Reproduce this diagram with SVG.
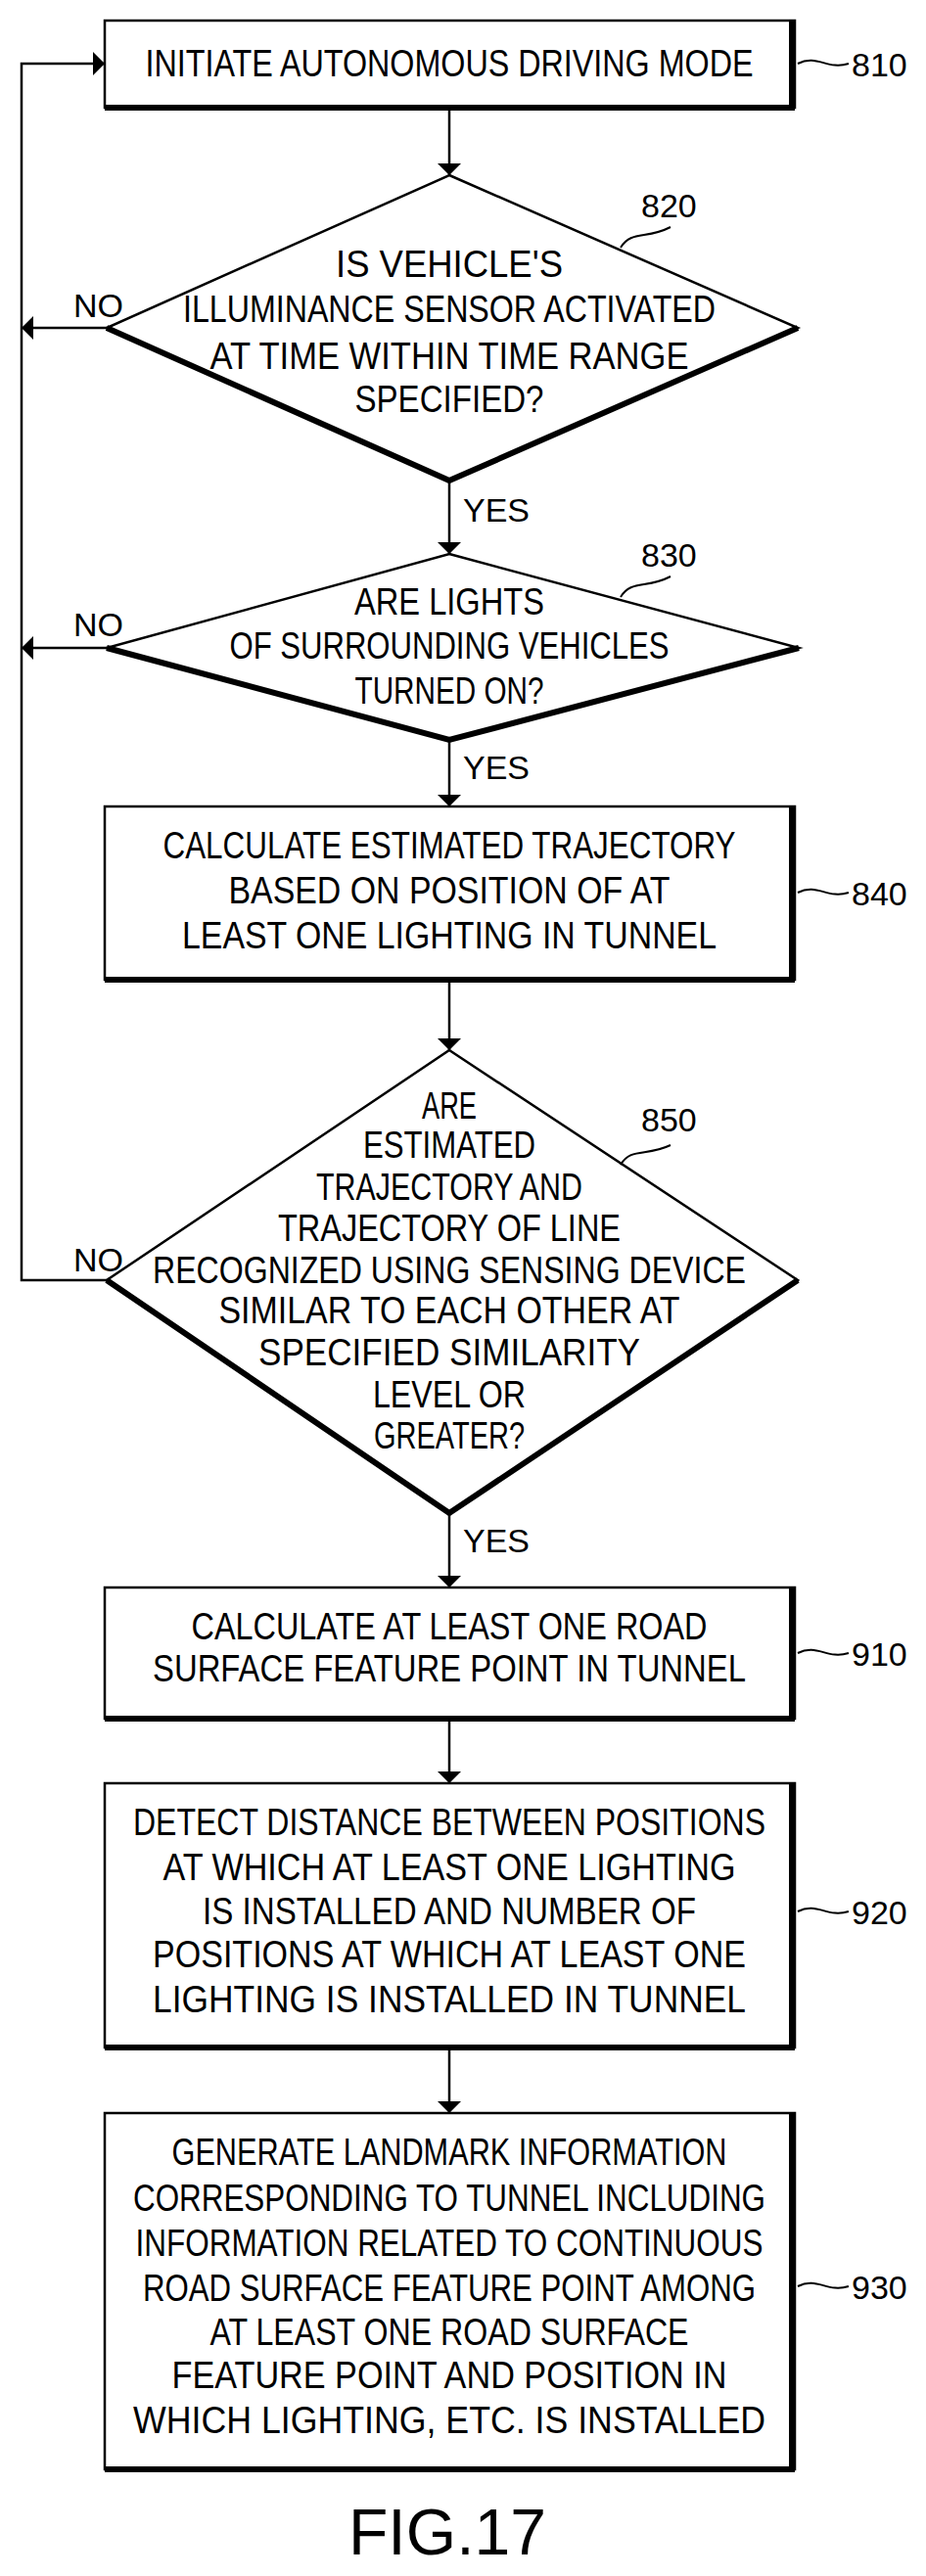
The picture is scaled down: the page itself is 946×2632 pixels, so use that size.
<svg xmlns="http://www.w3.org/2000/svg" width="946" height="2632" viewBox="0 0 946 2632">
<defs>
<marker id="ah" viewBox="0 0 12 24" refX="12" refY="12" markerWidth="12" markerHeight="24" markerUnits="userSpaceOnUse" orient="auto"><path d="M0,0 L12,12 L0,24 Z" fill="#000"/></marker>
</defs>
<style>
text{font-family:"Liberation Sans",Arial,sans-serif;font-size:38px;fill:#000}
.t{text-anchor:middle}
.n{font-size:34px}
.b{fill:#fff;stroke:#000;stroke-width:2.5}
.sh{fill:none;stroke:#000;stroke-width:6}
.c{fill:none;stroke:#000;stroke-width:2.5}
.sq{fill:none;stroke:#000;stroke-width:2}
</style>
<rect width="946" height="2632" fill="#fff"/>
<g id="connectors">
<line class="c" x1="459" y1="110" x2="459" y2="179" marker-end="url(#ah)"/>
<line class="c" x1="459" y1="491" x2="459" y2="566" marker-end="url(#ah)"/>
<line class="c" x1="459" y1="756" x2="459" y2="824" marker-end="url(#ah)"/>
<line class="c" x1="459" y1="1001" x2="459" y2="1073" marker-end="url(#ah)"/>
<line class="c" x1="459" y1="1546" x2="459" y2="1622" marker-end="url(#ah)"/>
<line class="c" x1="459" y1="1756" x2="459" y2="1822" marker-end="url(#ah)"/>
<line class="c" x1="459" y1="2092" x2="459" y2="2159" marker-end="url(#ah)"/>
<polyline class="c" points="109,1308 22,1308 22,65 107,65" marker-end="url(#ah)"/>
<line class="c" x1="109" y1="335" x2="22" y2="335" marker-end="url(#ah)"/>
<line class="c" x1="109" y1="662" x2="22" y2="662" marker-end="url(#ah)"/>
<text x="75" y="324" class="n">NO</text>
<text x="75" y="650" class="n">NO</text>
<text x="75" y="1299" class="n">NO</text>
<text x="473" y="533" class="n">YES</text>
<text x="473" y="796" class="n">YES</text>
<text x="473" y="1586" class="n">YES</text>
</g>
<g id="n810">
<rect class="b" x="107" y="21" width="705" height="89"/>
<polyline class="sh" points="809,21 809,110 107,110"/>
<text class="t" x="459" y="78" textLength="621" lengthAdjust="spacingAndGlyphs">INITIATE AUTONOMOUS DRIVING MODE</text>
<path class="sq" d="M815,65 C835,55 845,72 867,65"/>
<text x="870" y="78" class="n">810</text>
</g>
<g id="n820">
<polygon class="b" points="459,179 815,335 459,491 109,335"/>
<polyline class="sh" points="109,335 459,491 815,335"/>
<text class="t" x="459" y="283" textLength="232" lengthAdjust="spacingAndGlyphs">IS VEHICLE'S</text>
<text class="t" x="459" y="329" textLength="544" lengthAdjust="spacingAndGlyphs">ILLUMINANCE SENSOR ACTIVATED</text>
<text class="t" x="459" y="377" textLength="489" lengthAdjust="spacingAndGlyphs">AT TIME WITHIN TIME RANGE</text>
<text class="t" x="459" y="421" textLength="193" lengthAdjust="spacingAndGlyphs">SPECIFIED?</text>
<path class="sq" d="M634,253 C645,235 660,245 685,232"/>
<text x="655" y="222" class="n">820</text>
</g>
<g id="n830">
<polygon class="b" points="459,566 816,662 459,756 109,662"/>
<polyline class="sh" points="109,662 459,756 816,662"/>
<text class="t" x="459" y="628" textLength="194" lengthAdjust="spacingAndGlyphs">ARE LIGHTS</text>
<text class="t" x="459" y="673" textLength="449" lengthAdjust="spacingAndGlyphs">OF SURROUNDING VEHICLES</text>
<text class="t" x="459" y="719" textLength="193" lengthAdjust="spacingAndGlyphs">TURNED ON?</text>
<path class="sq" d="M634,610 C645,592 660,602 685,589"/>
<text x="655" y="579" class="n">830</text>
</g>
<g id="n840">
<rect class="b" x="107" y="824" width="705" height="177"/>
<polyline class="sh" points="809,824 809,1001 107,1001"/>
<text class="t" x="459" y="877" textLength="585" lengthAdjust="spacingAndGlyphs">CALCULATE ESTIMATED TRAJECTORY</text>
<text class="t" x="459" y="923" textLength="451" lengthAdjust="spacingAndGlyphs">BASED ON POSITION OF AT</text>
<text class="t" x="459" y="969" textLength="546" lengthAdjust="spacingAndGlyphs">LEAST ONE LIGHTING IN TUNNEL</text>
<path class="sq" d="M815,912 C835,902 845,919 867,912"/>
<text x="870" y="925" class="n">840</text>
</g>
<g id="n850">
<polygon class="b" points="459,1073 815,1308 459,1546 109,1308"/>
<polyline class="sh" points="109,1308 459,1546 815,1308"/>
<text class="t" x="459" y="1143" textLength="56" lengthAdjust="spacingAndGlyphs">ARE</text>
<text class="t" x="459" y="1183" textLength="176" lengthAdjust="spacingAndGlyphs">ESTIMATED</text>
<text class="t" x="459" y="1226" textLength="272" lengthAdjust="spacingAndGlyphs">TRAJECTORY AND</text>
<text class="t" x="459" y="1268" textLength="350" lengthAdjust="spacingAndGlyphs">TRAJECTORY OF LINE</text>
<text class="t" x="459" y="1311" textLength="606" lengthAdjust="spacingAndGlyphs">RECOGNIZED USING SENSING DEVICE</text>
<text class="t" x="459" y="1352" textLength="471" lengthAdjust="spacingAndGlyphs">SIMILAR TO EACH OTHER AT</text>
<text class="t" x="459" y="1395" textLength="390" lengthAdjust="spacingAndGlyphs">SPECIFIED SIMILARITY</text>
<text class="t" x="459" y="1438" textLength="156" lengthAdjust="spacingAndGlyphs">LEVEL OR</text>
<text class="t" x="459" y="1480" textLength="154" lengthAdjust="spacingAndGlyphs">GREATER?</text>
<path class="sq" d="M634,1190 C645,1172 660,1182 685,1170"/>
<text x="655" y="1156" class="n">850</text>
</g>
<g id="n910">
<rect class="b" x="107" y="1622" width="705" height="134"/>
<polyline class="sh" points="809,1622 809,1756 107,1756"/>
<text class="t" x="459" y="1675" textLength="527" lengthAdjust="spacingAndGlyphs">CALCULATE AT LEAST ONE ROAD</text>
<text class="t" x="459" y="1718" textLength="606" lengthAdjust="spacingAndGlyphs">SURFACE FEATURE POINT IN TUNNEL</text>
<path class="sq" d="M815,1689 C835,1679 845,1696 867,1689"/>
<text x="870" y="1702" class="n">910</text>
</g>
<g id="n920">
<rect class="b" x="107" y="1822" width="705" height="270"/>
<polyline class="sh" points="809,1822 809,2092 107,2092"/>
<text class="t" x="459" y="1875" textLength="646" lengthAdjust="spacingAndGlyphs">DETECT DISTANCE BETWEEN POSITIONS</text>
<text class="t" x="459" y="1921" textLength="585" lengthAdjust="spacingAndGlyphs">AT WHICH AT LEAST ONE LIGHTING</text>
<text class="t" x="459" y="1966" textLength="504" lengthAdjust="spacingAndGlyphs">IS INSTALLED AND NUMBER OF</text>
<text class="t" x="459" y="2010" textLength="606" lengthAdjust="spacingAndGlyphs">POSITIONS AT WHICH AT LEAST ONE</text>
<text class="t" x="459" y="2056" textLength="606" lengthAdjust="spacingAndGlyphs">LIGHTING IS INSTALLED IN TUNNEL</text>
<path class="sq" d="M815,1953 C835,1943 845,1960 867,1953"/>
<text x="870" y="1966" class="n">920</text>
</g>
<g id="n930">
<rect class="b" x="107" y="2159" width="705" height="364"/>
<polyline class="sh" points="809,2159 809,2523 107,2523"/>
<text class="t" x="459" y="2212" textLength="567" lengthAdjust="spacingAndGlyphs">GENERATE LANDMARK INFORMATION</text>
<text class="t" x="459" y="2259" textLength="646" lengthAdjust="spacingAndGlyphs">CORRESPONDING TO TUNNEL INCLUDING</text>
<text class="t" x="459" y="2305" textLength="641" lengthAdjust="spacingAndGlyphs">INFORMATION RELATED TO CONTINUOUS</text>
<text class="t" x="459" y="2351" textLength="626" lengthAdjust="spacingAndGlyphs">ROAD SURFACE FEATURE POINT AMONG</text>
<text class="t" x="459" y="2396" textLength="489" lengthAdjust="spacingAndGlyphs">AT LEAST ONE ROAD SURFACE</text>
<text class="t" x="459" y="2440" textLength="567" lengthAdjust="spacingAndGlyphs">FEATURE POINT AND POSITION IN</text>
<text class="t" x="459" y="2486" textLength="646" lengthAdjust="spacingAndGlyphs">WHICH LIGHTING, ETC. IS INSTALLED</text>
<path class="sq" d="M815,2336 C835,2326 845,2343 867,2336"/>
<text x="870" y="2349" class="n">930</text>
</g>
<text class="t" x="457" y="2610" style="font-size:66px" textLength="202" lengthAdjust="spacingAndGlyphs">FIG.17</text>
</svg>
